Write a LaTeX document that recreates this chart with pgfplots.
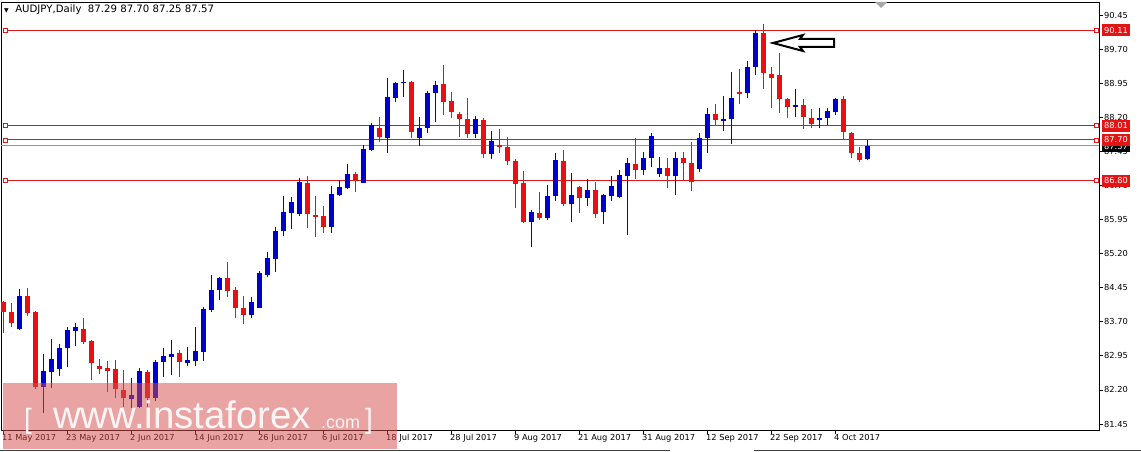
\documentclass[border=0pt]{standalone}
\usepackage{fontspec}
\setmainfont{DejaVu Sans}
\newfontfamily\wmfont{Liberation Sans}
\usepackage{pgfplots}
\usepackage{pgfplotstable}
\pgfplotsset{compat=1.18}
\definecolor{cblue}{RGB}{0,0,205}
\definecolor{cred}{RGB}{228,18,18}
\definecolor{lred}{RGB}{215,25,25}
\definecolor{boxred}{RGB}{228,20,20}
\definecolor{wmpink}{RGB}{212,78,78}

\pgfplotstableread{
i O H L C
2 83.54 84.42 83.52 84.27
5 82.26 82.99 81.69 82.62
6 82.59 83.32 82.24 82.88
7 82.66 83.21 82.50 83.12
8 83.12 83.58 82.70 83.52
9 83.50 83.67 83.17 83.58
16 82.00 82.46 81.80 82.09
17 81.82 82.68 81.80 82.62
19 82.02 82.86 81.96 82.81
20 82.81 83.12 82.48 82.95
21 82.93 83.30 82.53 82.99
23 82.79 83.14 82.73 82.86
24 82.84 83.58 82.73 83.06
25 83.03 84.02 82.84 83.98
26 83.96 84.73 83.91 84.40
27 84.40 84.68 84.18 84.66
31 83.85 84.24 83.78 84.13
32 84.00 84.82 84.00 84.77
33 84.73 85.23 84.68 85.10
34 85.08 85.78 84.79 85.70
35 85.70 86.47 85.59 86.11
36 86.09 86.44 85.74 86.33
37 86.07 86.86 86.03 86.77
41 85.78 86.69 85.65 86.51
42 86.49 86.82 86.47 86.66
43 86.64 87.17 86.62 86.95
45 86.75 87.59 86.75 87.50
46 87.48 88.07 87.46 88.03
48 87.74 89.06 87.41 88.65
49 88.62 88.97 88.54 88.95
50 88.95 89.24 88.65 88.98
52 87.74 88.21 87.57 87.96
53 87.96 88.78 87.85 88.73
54 88.73 89.00 88.10 88.91
59 87.83 88.23 87.74 88.16
61 87.39 87.90 87.28 87.68
66 85.89 86.16 85.34 86.11
68 85.98 86.71 85.94 86.47
69 86.47 87.41 86.36 87.26
71 86.29 86.97 85.89 86.49
73 86.42 86.84 86.25 86.60
75 86.11 86.51 85.85 86.49
76 86.47 86.91 86.36 86.69
77 86.45 87.04 86.42 86.93
78 86.91 87.30 85.61 87.19
80 87.04 87.44 86.93 87.30
81 87.30 87.85 87.10 87.79
82 86.95 87.33 86.88 87.08
84 86.91 87.44 86.49 87.30
87 87.06 87.85 86.99 87.74
88 87.74 88.40 87.41 88.27
90 88.12 88.67 87.90 88.16
91 88.16 89.20 87.61 88.62
93 88.73 89.44 88.62 89.31
94 89.31 90.12 89.13 90.05
99 88.43 88.82 88.21 88.47
102 88.14 88.40 87.96 88.18
103 88.18 88.40 88.03 88.34
104 88.32 88.62 88.25 88.60
108 87.29 87.70 87.25 87.57
}\bull

\pgfplotstableread{
i O H L C
0 84.14 84.16 83.45 83.91
1 83.91 84.11 83.58 83.67
3 84.27 84.44 83.83 83.89
4 83.91 83.93 82.22 82.26
10 83.54 83.78 83.21 83.25
11 83.28 83.30 82.42 82.79
12 82.73 82.88 82.55 82.66
13 82.68 82.84 82.15 82.62
14 82.66 82.86 82.02 82.22
15 82.20 82.64 81.82 82.02
18 82.59 82.64 81.82 82.02
22 83.01 83.08 82.48 82.81
28 84.66 85.01 84.24 84.38
29 84.40 84.47 83.78 84.00
30 84.00 84.27 83.65 83.85
38 86.75 86.91 85.76 86.07
39 86.05 86.47 85.56 86.00
40 86.03 86.25 85.65 85.78
44 86.95 87.00 86.56 86.80
47 87.96 88.21 87.66 87.77
51 88.97 88.99 87.74 87.88
55 88.93 89.35 88.25 88.54
56 88.56 88.76 88.18 88.32
57 88.27 88.32 87.77 88.16
58 88.16 88.62 87.74 87.83
60 88.14 88.18 87.30 87.39
62 87.59 87.94 87.41 87.55
63 87.55 87.77 87.15 87.24
64 87.24 87.28 86.20 86.73
65 86.75 87.02 85.87 85.89
67 86.09 86.55 85.94 85.98
70 87.24 87.48 86.25 86.29
72 86.66 86.68 86.09 86.42
74 86.60 86.77 85.98 86.07
79 87.17 87.74 86.84 87.04
83 87.08 87.30 86.64 86.91
85 87.30 87.44 86.82 87.19
86 87.19 87.66 86.58 86.77
89 88.27 88.49 88.01 88.14
92 88.76 89.26 88.49 88.71
95 90.05 90.25 88.82 89.17
96 89.15 89.31 88.40 89.06
97 89.13 89.61 88.29 88.60
98 88.60 88.62 88.18 88.43
100 88.47 88.60 87.94 88.21
101 88.18 88.38 87.96 88.05
105 88.60 88.67 87.70 87.88
106 87.85 87.88 87.30 87.41
107 87.41 87.55 87.21 87.26
}\bear

\begin{document}
\begin{tikzpicture}
\useasboundingbox (-1bp,-22bp) rectangle (1140bp,430bp);
\begin{axis}[
  at={(0,0)}, anchor=south west,
  width=1098bp, height=428bp, scale only axis,
  xmin=-0.25, xmax=137, ymin=81.318, ymax=90.736,
  axis line style={black, line width=1bp},
  tick style={black, line width=0.8bp},
  tick align=outside, major tick length=4bp,
  ytick pos=right, yticklabel pos=right,
  xtick pos=bottom,
  ytick={81.45,82.2,82.95,83.7,84.45,85.2,85.95,86.7,87.45,88.2,88.95,89.7,90.45},
  yticklabels={81.45,82.20,82.95,83.70,84.45,85.20,85.95,86.70,87.45,88.20,88.95,89.70,90.45},
  xtick={0,8,16,24,32,40,48,56,64,72,80,88,96,104},
  xticklabels={11 May 2017,23 May 2017,2 Jun 2017,14 Jun 2017,26 Jun 2017,6 Jul 2017,18 Jul 2017,28 Jul 2017,9 Aug 2017,21 Aug 2017,31 Aug 2017,12 Sep 2017,22 Sep 2017,4 Oct 2017},
  /pgf/number format/assume math mode=true,
  yticklabel style={font=\fontsize{8.3}{10}\selectfont, anchor=west, inner sep=0pt, xshift=1bp},
  xticklabel style={font=\fontsize{8.3}{10}\selectfont, anchor=north west, inner sep=0pt, xshift=-1bp},
]
% horizontal levels
\addplot[draw={rgb,255:red,150;green,150;blue,150}, line width=1bp, mark=none] coordinates {(-0.25,87.57) (137,87.57)};
\addplot[draw=lred, line width=1bp, mark=none] coordinates {(0.25,90.11) (137,90.11)};
\addplot[draw=lred, line width=1bp, mark=none] coordinates {(0.25,88.01) (137,88.01)};
\addplot[draw=lred, line width=1bp, mark=none] coordinates {(0.25,87.70) (137,87.70)};
\addplot[draw=lred, line width=1bp, mark=none] coordinates {(0.25,86.80) (137,86.80)};
\addplot[draw=none, mark=square*, mark size=2bp, mark options={draw=lred, fill=white, line width=0.8bp}] coordinates {
(0.25,90.11) (0.25,88.01) (0.25,87.70) (0.25,86.80)
(136.7,90.11) (136.7,88.01) (136.7,87.70) (136.7,86.80)};
% wicks
\addplot[cblue, line width=1bp, mark=none, -, quiver={u=0, v=\thisrow{H}-\thisrow{L}}]
  table[x=i, y=L] {\bull};
\addplot[cred, line width=1bp, mark=none, -, quiver={u=0, v=\thisrow{H}-\thisrow{L}}]
  table[x=i, y=L] {\bear};
% bodies
\addplot[cblue, line width=5bp, mark=none, -, quiver={u=0, v=\thisrow{C}-\thisrow{O}}]
  table[x=i, y=O] {\bull};
\addplot[cred, line width=5bp, mark=none, -, quiver={u=0, v=\thisrow{O}-\thisrow{C}}]
  table[x=i, y=C] {\bear};
% arrow
\draw[black, line width=2bp, fill=white, line join=miter]
  (axis cs:96.25,89.834) -- (axis cs:100,90.01) -- (axis cs:99.625,89.922) -- (axis cs:103.875,89.922)
  -- (axis cs:103.875,89.746) -- (axis cs:99.625,89.746) -- (axis cs:100,89.658) -- cycle;
\coordinate (r1) at (axis cs:137,90.11);
\coordinate (r2) at (axis cs:137,88.01);
\coordinate (r3) at (axis cs:137,87.70);
\coordinate (r4) at (axis cs:137,87.57);
\coordinate (r5) at (axis cs:137,86.80);
\end{axis}
% right-hand price boxes
\node[fill=black, text=white, anchor=west, inner xsep=2bp, inner ysep=1bp, minimum height=10bp,
      font=\fontsize{8.3}{10}\selectfont] at ([xshift=3bp, yshift=-1bp]r4) {87.57};
\foreach \c/\t in {r1/90.11, r2/88.01, r3/87.70, r5/86.80}{
  \node[fill=boxred, text=white, anchor=west, inner xsep=2bp, inner ysep=1.5bp, minimum height=12bp,
        font=\fontsize{8.3}{10}\selectfont] at ([xshift=3bp]\c) {\t};
}
% title
\node[anchor=west, inner sep=0pt, font=\fontsize{10.2}{12}\selectfont] at (3bp,420bp)
  {{\fontsize{6}{6}\selectfont ▼}\ \ AUDJPY,Daily\ \ 87.29 87.70 87.25 87.57};
% shift marker
\fill[gray!70] (874bp,428bp) -- (886bp,428bp) -- (880bp,422bp) -- cycle;
% bottom window edge
\fill[black!75] (-1bp,-21bp) rectangle (669bp,-20bp);
\fill[black!75] (753bp,-21bp) rectangle (1140bp,-20bp);
% watermark
\fill[wmpink, fill opacity=0.52] (2bp,-19bp) rectangle (396bp,47bp);
\begin{scope}[white, opacity=0.9]
\node[anchor=south west, inner sep=0pt, font=\wmfont\fontsize{28}{28}\selectfont] at (23bp,-4bp) {[};
\node[anchor=base west, inner sep=0pt, font=\wmfont\fontsize{38.5}{38.5}\selectfont] at (52bp,2bp) {www.instaforex};
\node[anchor=base west, inner sep=0pt, font=\wmfont\fontsize{18}{18}\selectfont] at (320bp,2bp) {.com};
\node[anchor=south west, inner sep=0pt, font=\wmfont\fontsize{28}{28}\selectfont] at (364bp,-4bp) {]};
\end{scope}
\end{tikzpicture}
\end{document}
